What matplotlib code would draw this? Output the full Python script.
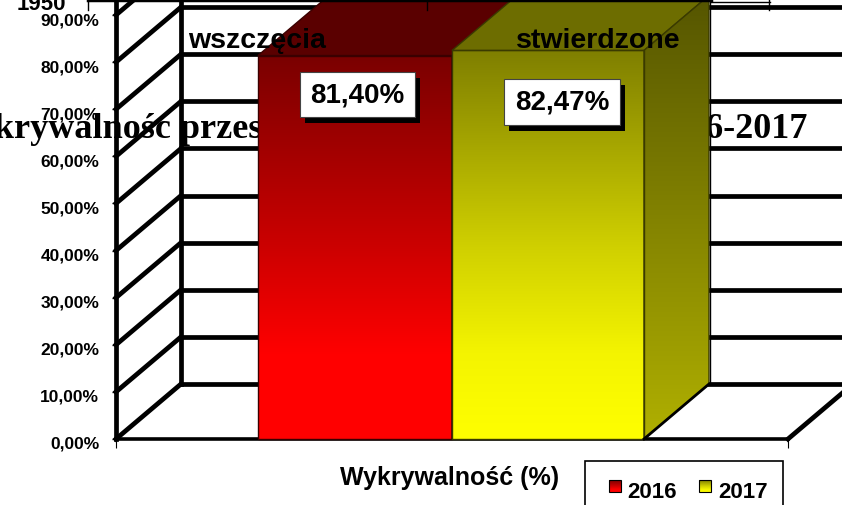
import numpy as np
import matplotlib
matplotlib.use('Agg')
import matplotlib.pyplot as plt
from matplotlib.colors import LinearSegmentedColormap
from matplotlib.patches import Polygon, Rectangle
from matplotlib.transforms import ScaledTranslation

# DATA
years = ['2016', '2017']
values = [81.40, 82.47]
value_labels = ['81,40%', '82,47%']
categories = ['wszczęcia', 'stwierdzone']
yticks = [0, 10, 20, 30, 40, 50, 60, 70, 80, 90]
ytick_labels = ['0,00%', '10,00%', '20,00%', '30,00%', '40,00%', '50,00%',
                '60,00%', '70,00%', '80,00%', '90,00%']
chart_title = 'Wykrywalność przestępstw w Polsce w latach 2016-2017'
xlabel_text = 'Wykrywalność (%)'
stray_label = '1950'

W, H = 842, 506
px_per_unit = 4.711          # pixels for 1 % on the y axis
dx, dy = 65, 55 / px_per_unit  # depth of the 3D box
sans = 'Liberation Sans'
serif = 'Liberation Serif'


def fx(x):
    return x / W


def fy(y):
    return 1 - y / H


fig = plt.figure(figsize=(W / 100, H / 100), dpi=100)
ax = fig.add_axes([fx(116), fy(440), (788 - 116) / W, 440 / H])
ax.set_xlim(116, 788)
ax.set_ylim(0, 440 / px_per_unit)
ax.patch.set_visible(False)
for s in ['top', 'right']:
    ax.spines[s].set_visible(False)
ax.spines['left'].set_linewidth(3.4)
ax.spines['bottom'].set_linewidth(2.6)
ax.spines['bottom'].set_zorder(1.5)

ax.set_yticks(yticks)
ax.set_yticklabels(ytick_labels, fontfamily=sans, fontweight='bold', fontsize=12.5, color='black')
ax.tick_params(axis='y', length=3, width=1, pad=9)
ax.set_xticks([116, 788])
ax.set_xticklabels([])
ax.tick_params(axis='x', length=6.5, width=0.8)
shift = ScaledTranslation(0, -3 / 100, fig.dpi_scale_trans)
for lab in ax.get_yticklabels():
    lab.set_transform(lab.get_transform() + shift)

# walls
for t in yticks:
    ax.plot([116, 116 + dx], [t, t + dy], color='black', lw=3.4, clip_on=False, zorder=1)
    ax.plot([116 + dx, 860], [t + dy, t + dy], color='black', lw=3.4, clip_on=False, zorder=1)
ax.plot([116 + dx, 116 + dx], [dy, 94], color='black', lw=3.4, clip_on=False, zorder=1)
ax.plot([788, 788 + dx], [0, dy], color='black', lw=3.4, clip_on=False, zorder=1)

# title sits above the wall lines, behind the bars
ax.text(807, (440 - 138) / px_per_unit, chart_title, family=serif, fontweight='bold', fontsize=26,
        ha='right', va='baseline', color='black', zorder=3, clip_on=False)

bar_left = [258, 452]
bar_width = [194, 192]
front_cmaps = [LinearSegmentedColormap.from_list('r', [(0, '#7a0000'), (0.5, '#cc0000'), (0.78, '#ff0000'), (1, '#ff0000')]),
               LinearSegmentedColormap.from_list('y', [(0, '#7f7f00'), (0.5, '#cfcf00'), (0.78, '#f4f400'), (1, '#ffff00')])]
side_cmaps = [LinearSegmentedColormap.from_list('rs', ['#550000', '#aa0000']),
              LinearSegmentedColormap.from_list('ys', ['#555500', '#b0b000'])]
top_colors = ['#5a0000', '#6d6d00']
edge_colors = ['#3a0000', '#3a3a00']
grad = np.linspace(0, 1, 256).reshape(-1, 1)

for i in range(2):
    x0 = bar_left[i]
    x1 = x0 + bar_width[i]
    v = values[i]
    z = 5 + i
    ax.bar(x0, v, width=bar_width[i], align='edge', color='none',
           edgecolor=edge_colors[i], lw=1, zorder=z + 0.2, clip_on=False)
    im = ax.imshow(grad, extent=[x0, x1, 0, v], cmap=front_cmaps[i], aspect='auto',
                   origin='upper', zorder=z)
    im.set_clip_path(Rectangle((x0, 0), bar_width[i], v, transform=ax.transData))
    top = Polygon([(x0, v), (x0 + dx, v + dy), (x1 + dx, v + dy), (x1, v)], closed=True,
                  facecolor=top_colors[i], edgecolor=edge_colors[i], lw=1, zorder=z, clip_on=False)
    ax.add_patch(top)
    side_pts = [(x1, 0), (x1 + dx, dy), (x1 + dx, v + dy), (x1, v)]
    ax.add_patch(Polygon(side_pts, closed=True, facecolor='none', edgecolor=edge_colors[i], lw=1,
                         zorder=z + 0.2, clip_on=False))
    im2 = ax.imshow(grad, extent=[x1, x1 + dx, 0, v + dy], cmap=side_cmaps[i], aspect='auto',
                    origin='upper', zorder=z)
    im2.set_clip_path(Polygon(side_pts, closed=True, transform=ax.transData))

# thin line right of the last bar and the diagonal at its foot
end = bar_left[1] + bar_width[1]
ax.plot([end + dx + 1] * 2, [dy, 94], color='black', lw=1, zorder=4, clip_on=False)
ax.plot([end, end + dx], [0, dy], color='black', lw=2, zorder=7, clip_on=False)

# legend swatches with the same gradient as the bars
sw_x = [609, 699]
for i in range(2):
    y_top, y_bot = (440 - 481) / px_per_unit, (440 - 493) / px_per_unit
    im = ax.imshow(grad, extent=[sw_x[i], sw_x[i] + 12, y_bot, y_top], cmap=front_cmaps[i],
                   aspect='auto', origin='upper', zorder=20)
    im.set_clip_on(False)
ax.set_xlim(116, 788)
ax.set_ylim(0, 440 / px_per_unit)

# value boxes
boxes = [(300, 73, 115, 45), (504, 80, 116, 46)]
for (bx, by, bw, bh), lab in zip(boxes, value_labels):
    fig.add_artist(Rectangle((fx(bx + 5), fy(by + bh + 6)), bw / W, bh / H, transform=fig.transFigure,
                             facecolor='black', edgecolor='none', zorder=10))
    fig.add_artist(Rectangle((fx(bx), fy(by + bh)), bw / W, bh / H, transform=fig.transFigure,
                             facecolor='white', edgecolor='#444444', lw=0.8, zorder=11))
    fig.text(fx(bx + bw / 2), fy(by + bh / 2), lab, family=sans, fontweight='bold', fontsize=20,
             ha='center', va='center', color='black', zorder=12)

# category names over the bars
cat_x = [188, 516]
for x, c in zip(cat_x, categories):
    fig.text(fx(x), fy(48), c, family=sans, fontweight='bold', fontsize=20.5,
             ha='left', va='baseline', color='black', zorder=12)

fig.text(fx(340), fy(485), xlabel_text, family=sans, fontweight='bold', fontsize=18,
         ha='left', va='baseline', color='black', zorder=12)

# stray axis from the chart above, cut off by the crop
fig.add_artist(plt.Line2D([fx(88), fx(711)], [fy(1), fy(1)], color='black', lw=2.5, zorder=9))
fig.add_artist(plt.Line2D([fx(711), fx(770)], [fy(3), fy(3)], color='black', lw=1, zorder=9))
for tx in [88, 427, 769]:
    fig.add_artist(plt.Line2D([fx(tx), fx(tx)], [fy(1), fy(11)], color='black', lw=1, zorder=9))
fig.text(fx(17), fy(10), stray_label, family=sans, fontweight='bold', fontsize=16,
         ha='left', va='baseline', color='black', zorder=9)

# legend
fig.add_artist(Rectangle((fx(585), fy(520)), 198 / W, 58 / H, transform=fig.transFigure,
                         facecolor='white', edgecolor='black', lw=1.2, zorder=3))
ax.set_zorder(4)
txt_x = [627, 718]
for i in range(2):
    fig.add_artist(Rectangle((fx(sw_x[i]), fy(493)), 12 / W, 12 / H, transform=fig.transFigure,
                             facecolor='none', edgecolor='black', lw=0.8, zorder=11))
    fig.text(fx(txt_x[i]), fy(498), years[i], family=sans, fontweight='bold', fontsize=16,
             ha='left', va='baseline', color='black', zorder=12)

fig.savefig('out.png', dpi=100)
